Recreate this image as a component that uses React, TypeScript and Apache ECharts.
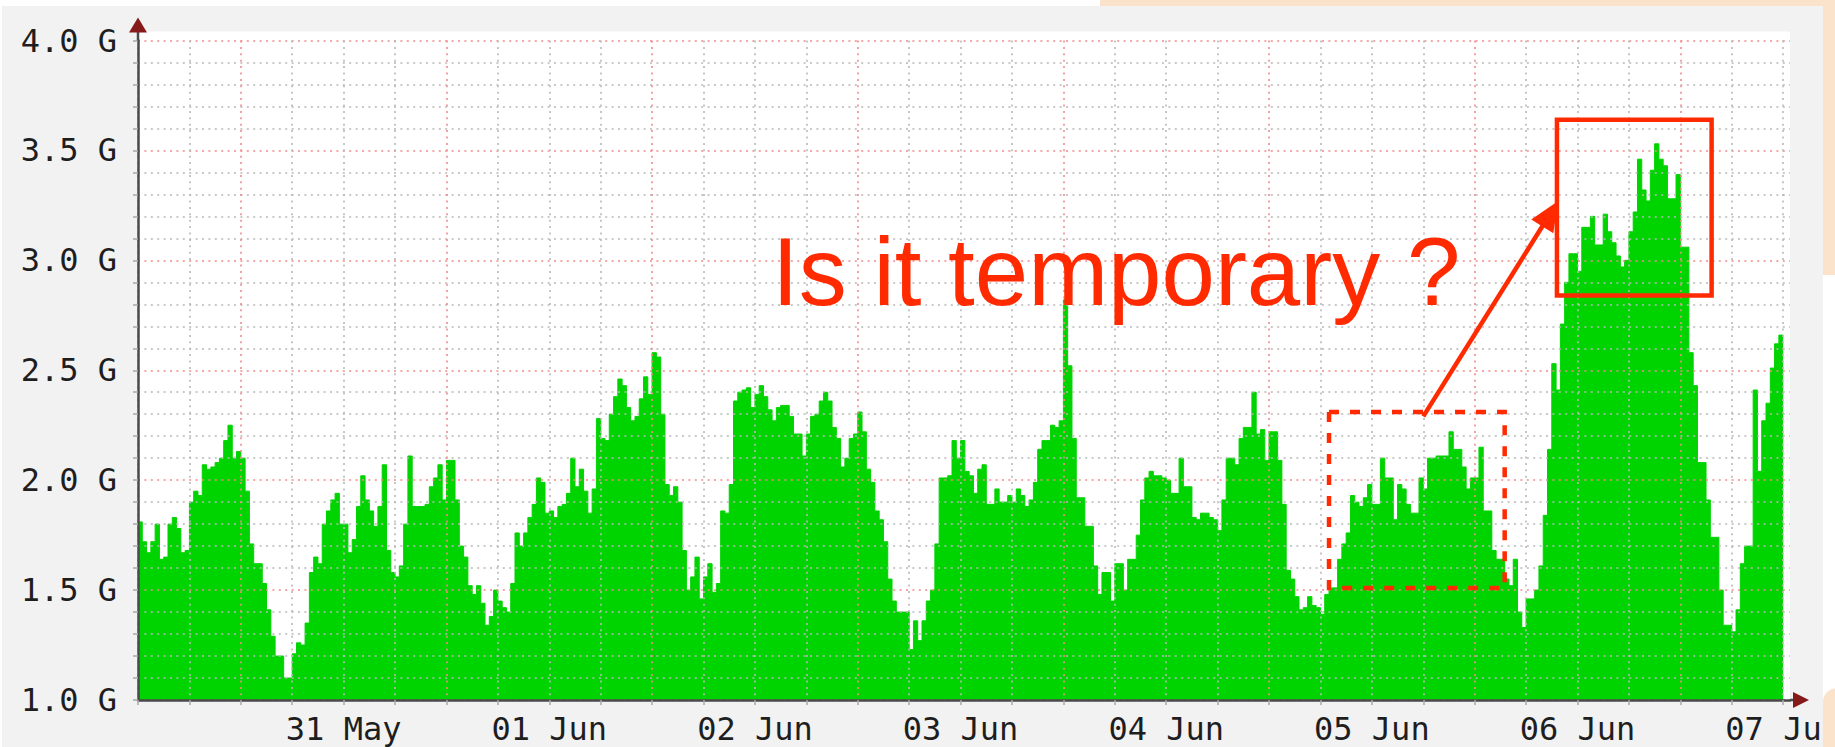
import React, { useEffect, useRef } from "react";
import * as echarts from "echarts";

// Hours are counted from 30 May 00:00; the graph starts at 30 May 12:00 with 30-minute steps.
const startHour = 12;
const stepHours = 0.5;
const axisMinHour = 12;
const axisMaxHour = 204.8;
const yMin = 1.0;
const yMax = 4.0;

// Traffic in G, one value per 30-minute step (30 May 12:00 -> 07 Jun 12:00)
const traffic = [
  1.81, 1.72, 1.67, 1.72, 1.80, 1.64, 1.65, 1.80, 1.83, 1.78,
  1.67, 1.68, 1.90, 1.95, 1.93, 2.07, 2.05, 2.06, 2.08, 2.10,
  2.18, 2.25, 2.10, 2.13, 2.10, 1.95, 1.71, 1.62, 1.62, 1.53,
  1.41, 1.29, 1.20, 1.20, 1.10, 1.10, 1.21, 1.26, 1.25, 1.35,
  1.58, 1.65, 1.62, 1.80, 1.86, 1.91, 1.94, 1.80, 1.80, 1.67,
  1.73, 1.88, 2.02, 1.91, 1.86, 1.79, 1.88, 2.07, 1.68, 1.58,
  1.56, 1.61, 1.80, 2.11, 1.88, 1.88, 1.88, 1.89, 1.97, 2.01,
  2.07, 1.91, 2.09, 2.09, 1.91, 1.70, 1.65,
  1.52, 1.48, 1.52, 1.44, 1.34, 1.38, 1.50, 1.45, 1.42, 1.40,
  1.53, 1.76, 1.70, 1.76, 1.83, 1.89, 2.01, 1.99, 1.85, 1.86,
  1.83, 1.88, 1.89, 1.94, 2.10, 1.97, 2.05, 1.95, 1.85, 1.96,
  2.28, 2.19, 2.18, 2.30, 2.38, 2.46, 2.43, 2.33, 2.27, 2.29,
  2.37, 2.47, 2.39, 2.58, 2.56, 2.30, 1.98, 1.93, 1.97, 1.90,
  1.68, 1.50, 1.56, 1.65, 1.46, 1.56, 1.62, 1.49, 1.53, 1.86,
  1.85, 1.98, 2.36, 2.40, 2.41, 2.42, 2.33, 2.39, 2.43, 2.38,
  2.32, 2.27, 2.33, 2.34, 2.34, 2.29, 2.21,
  2.21, 2.11, 2.21, 2.29, 2.30, 2.36, 2.40, 2.36, 2.24, 2.19,
  2.06, 2.10, 2.19, 2.21, 2.31, 2.22, 2.05, 1.99, 1.86, 1.82,
  1.72, 1.55, 1.45, 1.40, 1.40, 1.40, 1.23, 1.36, 1.27, 1.36,
  1.45, 1.50, 1.71, 2.01, 2.01, 2.02, 2.18, 2.10, 2.18, 2.04,
  2.02, 1.94, 2.05, 2.07, 1.89, 1.89, 1.96, 1.90, 1.90, 1.93,
  1.90, 1.96, 1.93, 1.88, 1.91, 1.99, 2.14, 2.18, 2.18, 2.25,
  2.24, 2.27, 2.82, 2.52, 2.19, 1.92, 1.92, 1.79, 1.79, 1.61,
  1.48, 1.58, 1.58, 1.45, 1.62, 1.62, 1.50,
  1.64, 1.64, 1.75, 1.91, 2.01, 2.04, 2.02, 2.02, 2.01, 2.00,
  1.94, 1.94, 2.10, 1.97, 1.97, 1.83, 1.82, 1.85, 1.85, 1.83,
  1.82, 1.77, 1.91, 2.10, 2.10, 2.07, 2.19, 2.24, 2.24, 2.40,
  2.21, 2.23, 2.09, 2.22, 2.22, 2.09, 1.89, 1.59, 1.55, 1.47,
  1.41, 1.42, 1.47, 1.43, 1.42, 1.39, 1.48, 1.51, 1.51, 1.64,
  1.71, 1.76, 1.93, 1.90, 1.88, 1.92, 1.98, 1.89, 1.89, 2.10,
  2.01, 2.01, 1.82, 1.98, 1.96, 1.89, 1.85, 1.85, 2.01, 1.96,
  2.10, 2.10, 2.11, 2.11, 2.11, 2.22, 2.14,
  2.14, 2.06, 1.96, 2.01, 2.01, 2.15, 1.86, 1.86, 1.68, 1.64,
  1.64, 1.55, 1.52, 1.64, 1.40, 1.33, 1.46, 1.46, 1.50, 1.61,
  1.84, 2.14, 2.53, 2.41, 2.71, 2.90, 3.03, 3.03, 2.95, 3.15,
  3.15, 3.20, 3.07, 3.07, 3.21, 3.13, 3.08, 3.02, 2.97, 3.00,
  3.13, 3.22, 3.46, 3.32, 3.27, 3.41, 3.53, 3.46, 3.43, 3.28,
  3.28, 3.39, 3.06, 3.06, 2.58, 2.43, 2.08, 2.08, 1.91, 1.74,
  1.74, 1.50, 1.34, 1.34, 1.31, 1.41, 1.62, 1.70, 1.70, 2.41,
  2.04, 2.27, 2.35, 2.51, 2.62, 2.66,
];

// Day labels are centred on noon of each day
const dayLabels = ["31 May", "01 Jun", "02 Jun", "03 Jun", "04 Jun", "05 Jun", "06 Jun", "07 Jun"];
const dayLabelHours = [36, 60, 84, 108, 132, 156, 180, 204];
const yLabelValues = [1.0, 1.5, 2.0, 2.5, 3.0, 3.5, 4.0];

// Annotations, in data units [hour, G]
const noteText = "Is it temporary ?";
const noteAt = [86.0, 2.95];
const solidBox = [[177.6, 3.64], [195.65, 2.84]];
const dashedBox = [[151.0, 2.31], [171.5, 1.51]];
const arrowFrom = [162.0, 2.29];
const arrowTo = [177.75, 3.27];

const GREEN = "#00d400";
const RED = "#ff2a00";
const PEACH = "#fbe3cb";
const PANEL = "#f2f2f2";
const MINOR = "#b8b8b8";
const MAJOR = "#f08a8a";
const AXIS = "#4a4a4a";
const ARROW = "#861a1a";
const LABEL_FONT = "'DejaVu Sans Mono', monospace";

export default function App() {
  const ref = useRef<HTMLDivElement>(null);

  useEffect(() => {
    const chart = echarts.init(ref.current as HTMLDivElement, null, { renderer: "svg" });

    const seriesData: number[][] = traffic.map((v, i) => [startHour + i * stepHours, v]);
    seriesData.push([startHour + traffic.length * stepHours, traffic[traffic.length - 1]]);

    const near = (a: number, b: number) => Math.abs(a - b) < 1e-6;

    chart.setOption({
      animation: false,
      backgroundColor: "#ffffff",
      grid: { left: 138, top: 40.5, right: 45, bottom: 47, containLabel: false, outerBoundsMode: "none" },
      xAxis: {
        type: "value",
        min: axisMinHour,
        max: axisMaxHour,
        interval: 6,
        z: 10,
        axisLine: { show: true, onZero: false, lineStyle: { color: AXIS, width: 2.5 } },
        axisTick: { show: true, length: 5, lineStyle: { color: "#a8a8a8", width: 1.5 } },
        axisLabel: {
          margin: 13,
          fontFamily: LABEL_FONT,
          fontSize: 32,
          color: "#1e1e1e",
          showMaxLabel: false,
          formatter: (v: number) => {
            const k = dayLabelHours.findIndex((h) => near(h, v));
            return k >= 0 ? dayLabels[k] : "";
          },
        },
        splitLine: {
          show: true,
          showMaxLine: false,
          lineStyle: { color: [MINOR, MINOR, MAJOR, MINOR], type: [2, 4.4], width: 1.6 },
        },
      },
      yAxis: {
        type: "value",
        min: yMin,
        max: yMax,
        interval: 0.1,
        z: 10,
        axisLine: { show: true, onZero: false, lineStyle: { color: AXIS, width: 2.5 } },
        axisTick: { show: true, length: 5, lineStyle: { color: "#a8a8a8", width: 1.5 } },
        axisLabel: {
          margin: 21,
          fontFamily: LABEL_FONT,
          fontSize: 32,
          color: "#1e1e1e",
          formatter: (v: number) => {
            const k = yLabelValues.findIndex((y) => near(y, v));
            return k >= 0 ? yLabelValues[k].toFixed(1) + " G" : "";
          },
        },
        splitLine: {
          show: true,
          lineStyle: { color: [MAJOR, MINOR, MINOR, MINOR, MINOR], type: [2, 4.4], width: 1.6 },
        },
      },
      series: [
        {
          type: "line",
          data: seriesData,
          step: "end",
          symbol: "none",
          showSymbol: false,
          silent: true,
          z: 2,
          lineStyle: { width: 1, color: GREEN },
          areaStyle: { color: GREEN, opacity: 1, origin: "start" },
        },
      ],
    });

    const px = (p: number[]) => chart.convertToPixel({ gridIndex: 0 }, p) as number[];
    const tl = px([axisMinHour, yMax]);
    const br = px([axisMaxHour, yMin]);

    const sb0 = px(solidBox[0]);
    const sb1 = px(solidBox[1]);
    const db0 = px(dashedBox[0]);
    const db1 = px(dashedBox[1]);
    const a0 = px(arrowFrom);
    const a1 = px(arrowTo);
    const dx = a1[0] - a0[0];
    const dy = a1[1] - a0[1];
    const len = Math.sqrt(dx * dx + dy * dy);
    const ux = dx / len;
    const uy = dy / len;
    const headLen = 30;
    const headHalf = 13;
    const base = [a1[0] - ux * headLen, a1[1] - uy * headLen];
    const nt = px(noteAt);

    const W = 1835;
    const H = 747;
    const panelRight = 1823;

    chart.setOption({
      graphic: [
        // slide background behind the screenshot
        { type: "rect", z: -20, silent: true, shape: { x: 1100, y: -60, width: 900, height: 335, r: 40 }, style: { fill: PEACH } },
        // screenshot panel
        { type: "rect", z: -10, silent: true, shape: { x: 2, y: 6, width: panelRight - 2, height: H }, style: { fill: PANEL } },
        // plot canvas
        { type: "rect", z: -5, silent: true, shape: { x: tl[0], y: tl[1] - 9, width: br[0] - tl[0], height: br[1] - tl[1] + 9 }, style: { fill: "#ffffff" } },
        // axis extensions and arrows
        { type: "line", z: 12, silent: true, shape: { x1: tl[0], y1: tl[1], x2: tl[0], y2: tl[1] - 9 }, style: { stroke: AXIS, lineWidth: 2.5 } },
        { type: "polygon", z: 12, silent: true, shape: { points: [[tl[0] - 9, tl[1] - 8], [tl[0] + 9, tl[1] - 8], [tl[0], tl[1] - 23]] }, style: { fill: ARROW } },
        { type: "line", z: 12, silent: true, shape: { x1: br[0], y1: br[1], x2: br[0] + 5, y2: br[1] }, style: { stroke: AXIS, lineWidth: 2.5 } },
        { type: "polygon", z: 12, silent: true, shape: { points: [[br[0] + 3, br[1] - 8], [br[0] + 3, br[1] + 8], [br[0] + 19, br[1]]] }, style: { fill: ARROW } },
        // right edge of the slide (covers the cropped part of the last label)
        { type: "rect", z: 50, silent: true, shape: { x: panelRight, y: 275, width: W - panelRight + 10, height: 415 }, style: { fill: "#ffffff" } },
        { type: "rect", z: 50, silent: true, shape: { x: panelRight, y: 688, width: W - panelRight + 10, height: 80, r: [14, 0, 0, 0] }, style: { fill: PEACH } },
        { type: "rect", z: 50, silent: true, shape: { x: panelRight, y: -10, width: W - panelRight + 10, height: 285, r: [0, 0, 0, 14] }, style: { fill: PEACH } },
        // annotations
        {
          type: "text",
          z: 100,
          silent: true,
          x: nt[0],
          y: nt[1],
          style: {
            text: noteText,
            font: "96px 'Liberation Sans', Arial, sans-serif",
            fill: RED,
            align: "left",
            verticalAlign: "middle",
            textAlign: "left",
            textVerticalAlign: "middle",
          },
        },
        {
          type: "rect",
          z: 100,
          silent: true,
          shape: { x: sb0[0], y: sb0[1], width: sb1[0] - sb0[0], height: sb1[1] - sb0[1] },
          style: { fill: "rgba(0,0,0,0)", stroke: RED, lineWidth: 4.5 },
        },
        {
          type: "rect",
          z: 100,
          silent: true,
          shape: { x: db0[0], y: db0[1], width: db1[0] - db0[0], height: db1[1] - db0[1] },
          style: { fill: "rgba(0,0,0,0)", stroke: RED, lineWidth: 4.5, lineDash: [10, 11] },
        },
        {
          type: "line",
          z: 100,
          silent: true,
          shape: { x1: a0[0], y1: a0[1], x2: base[0] + ux * 4, y2: base[1] + uy * 4 },
          style: { stroke: RED, lineWidth: 4.5 },
        },
        {
          type: "polygon",
          z: 100,
          silent: true,
          shape: {
            points: [
              [a1[0], a1[1]],
              [base[0] - uy * headHalf, base[1] + ux * headHalf],
              [base[0] + uy * headHalf, base[1] - ux * headHalf],
            ],
          },
          style: { fill: RED },
        },
      ],
    });

    return () => {
      chart.dispose();
    };
  }, []);

  return (
    <div
      ref={ref}
      style={{ position: "absolute", left: 0, top: 0, width: 1835, height: 747, background: "#ffffff" }}
    />
  );
}
